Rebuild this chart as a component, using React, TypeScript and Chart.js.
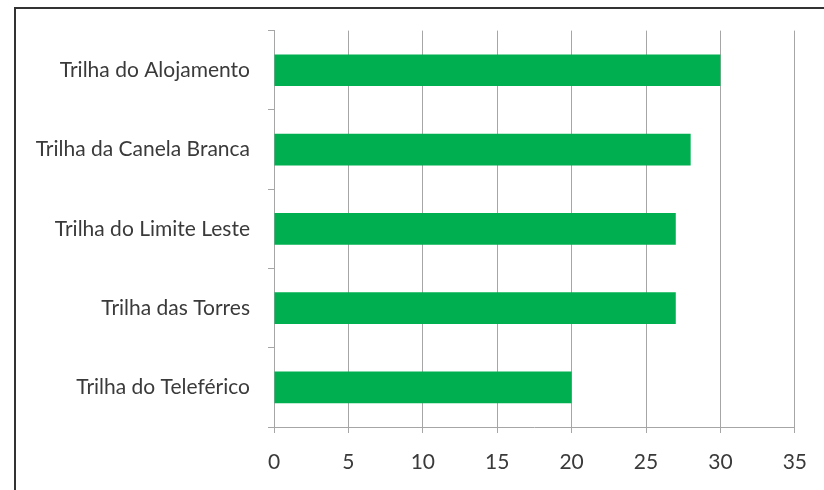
import React, { useEffect, useRef } from "react";
import { Chart, registerables } from "chart.js";

Chart.register(...registerables);

const categories = [
  "Trilha do Alojamento",
  "Trilha da Canela Branca",
  "Trilha do Limite Leste",
  "Trilha das Torres",
  "Trilha do Teleférico",
];
const values = [30, 28, 27, 27, 20];
const xMin = 0;
const xMax = 35;
const xStep = 5;

const FONT = "Lato, 'Open Sans', sans-serif";
const TEXT = "#3a3a3a";
const GRID = "#a6a6a6";
const BAR = "#00b050";

export default function App() {
  const ref = useRef<HTMLCanvasElement | null>(null);

  useEffect(() => {
    if (!ref.current) return;
    const chart = new Chart(ref.current, {
      type: "bar",
      data: {
        labels: categories,
        datasets: [
          {
            data: values,
            backgroundColor: BAR,
            borderWidth: 0,
            categoryPercentage: 1,
            barPercentage: 0.4,
          },
        ],
      },
      options: {
        indexAxis: "y",
        animation: false,
        responsive: false,
        maintainAspectRatio: false,
        layout: { padding: { top: 28, right: 25, left: 0, bottom: 0 } },
        plugins: { legend: { display: false }, tooltip: { enabled: false } },
        scales: {
          x: {
            min: xMin,
            max: xMax,
            ticks: {
              stepSize: xStep,
              color: TEXT,
              font: { family: FONT, size: 21 },
              padding: 17,
            },
            grid: { color: GRID, lineWidth: 1, tickLength: 6, drawTicks: true },
            border: { color: GRID, width: 1 },
            afterFit: (s: any) => {
              s.height = 63;
            },
          },
          y: {
            ticks: {
              color: TEXT,
              font: { family: FONT, size: 21 },
              padding: 18,
            },
            grid: {
              color: GRID,
              drawOnChartArea: false,
              drawTicks: true,
              tickLength: 6,
              offset: true,
            },
            border: { color: GRID, width: 1 },
            afterFit: (s: any) => {
              s.width = 274;
            },
          },
        },
      },
    });
    return () => chart.destroy();
  }, []);

  return (
    <div style={{ position: "absolute", left: 0, top: 0, width: 824, height: 490, background: "#fff" }}>
      <canvas ref={ref} width={824} height={490} style={{ position: "absolute", left: 0, top: 0, width: 824, height: 490 }} />
      <div
        style={{
          position: "absolute",
          left: 14,
          top: 7,
          width: 810,
          height: 483,
          borderTop: "2px solid #333",
          borderLeft: "2px solid #333",
          boxSizing: "border-box",
          pointerEvents: "none",
        }}
      />
    </div>
  );
}
